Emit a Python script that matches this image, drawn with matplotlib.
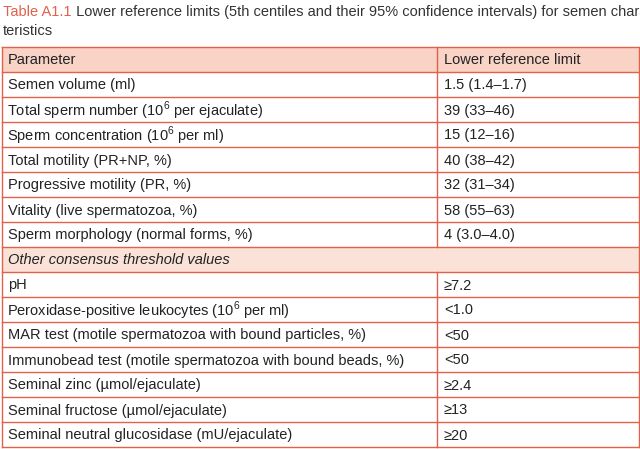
import matplotlib
matplotlib.use("Agg")
import matplotlib.pyplot as plt
from matplotlib.patches import Rectangle

plt.rcParams['font.family'] = ['Liberation Sans', 'DejaVu Sans']
plt.rcParams['mathtext.fontset'] = 'custom'
plt.rcParams['mathtext.rm'] = 'Liberation Sans'

title_bold = "Table A1.1"
title_rest = " Lower reference limits (5th centiles and their 95% confidence intervals) for semen charac-"
title_line2 = "teristics"
header = ["Parameter", "Lower reference limit"]
params1 = ["Semen volume (ml)", "Total sperm number (10$^6$ per ejaculate)",
           "Sperm concentration (10$^6$ per ml)", "Total motility (PR+NP, %)",
           "Progressive motility (PR, %)", "Vitality (live spermatozoa, %)",
           "Sperm morphology (normal forms, %)"]
limits1 = ["1.5 (1.4–1.7)", "39 (33–46)", "15 (12–16)", "40 (38–42)",
           "32 (31–34)", "58 (55–63)", "4 (3.0–4.0)"]
section = "Other consensus threshold values"
params2 = ["pH", "Peroxidase-positive leukocytes (10$^6$ per ml)",
           "MAR test (motile spermatozoa with bound particles, %)",
           "Immunobead test (motile spermatozoa with bound beads, %)",
           "Seminal zinc (µmol/ejaculate)", "Seminal fructose (µmol/ejaculate)",
           "Seminal neutral glucosidase (mU/ejaculate)"]
limits2 = ["≥7.2", "<1.0", "<50", "<50", "≥2.4", "≥13", "≥20"]

red = "#e2614b"
fig = plt.figure(figsize=(6.4, 4.49), dpi=100)
ax = fig.add_axes([0, 0, 1, 1])
ax.set_xlim(0, 640); ax.set_ylim(449, 0); ax.axis('off')

fs = 10.5
t = ax.text(3, 12, title_bold, color=red, fontsize=fs, va='center')
fig.canvas.draw()
bb = t.get_window_extent()
ax.text(3 + bb.width, 12, title_rest, color="#333333", fontsize=fs, va='center')
ax.text(3, 31, title_line2, color="#333333", fontsize=fs, va='center')

top, rh, left, right, split = 47, 25, 1.5, 638.5, 437
rows = [("h", header)] + [("r", (p, l)) for p, l in zip(params1, limits1)] + \
       [("s", section)] + [("r", (p, l)) for p, l in zip(params2, limits2)]
for i, (kind, content) in enumerate(rows):
    y0 = top + i * rh
    yc = y0 + rh / 2 + 1
    if kind == "h":
        ax.add_patch(Rectangle((left, y0), right - left, rh, facecolor="#f8d3c6", edgecolor='none'))
    if kind == "s":
        ax.add_patch(Rectangle((left, y0), right - left, rh, facecolor="#fbe2d8", edgecolor='none'))
        ax.text(8, yc, content, fontsize=fs, style='italic', va='center', color="#222222")
    else:
        dx = -1 if "$" in content[0] else 0
        ax.text(8 + dx, yc, content[0], fontsize=fs, va='center', color="#222222")
        ax.text(444, yc, content[1], fontsize=fs, va='center', color="#222222")
        ax.plot([split, split], [y0, y0 + rh], color=red, lw=1)
    ax.plot([left, right], [y0, y0], color=red, lw=1)
bottom = top + len(rows) * rh
ax.plot([left, right], [bottom, bottom], color=red, lw=1)
ax.plot([left, left], [top, bottom], color=red, lw=1)
ax.plot([right, right], [top, bottom], color=red, lw=1)

fig.savefig("out.png", dpi=100)
